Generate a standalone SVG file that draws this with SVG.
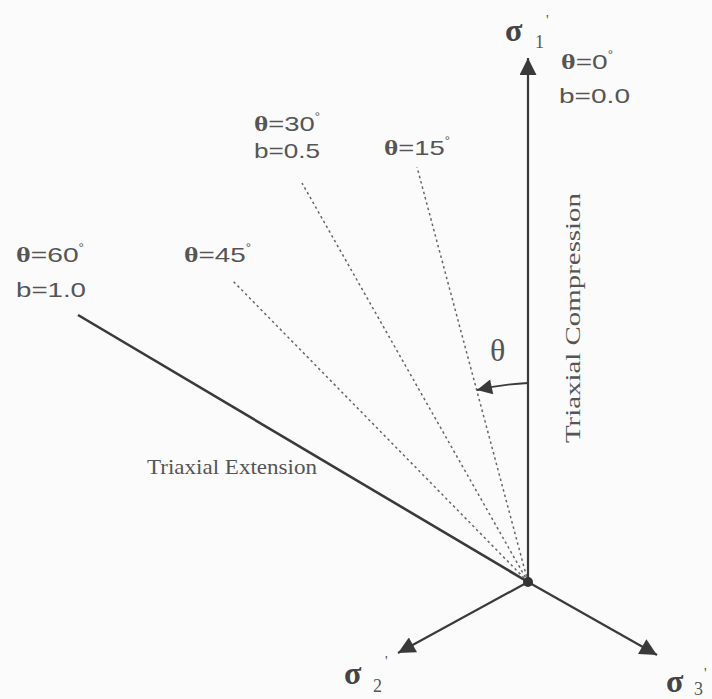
<svg xmlns="http://www.w3.org/2000/svg" width="712" height="699" viewBox="0 0 712 699">
<defs>
<marker id="ah" viewBox="0 0 10 10" refX="10" refY="5" markerWidth="27" markerHeight="17" markerUnits="userSpaceOnUse" orient="auto">
<path d="M0,0 L10,5 L0,10 Z" fill="#3a3a3a"/>
</marker>
<marker id="ahs" viewBox="0 0 10 10" refX="10" refY="5" markerWidth="26" markerHeight="15" markerUnits="userSpaceOnUse" orient="auto">
<path d="M0,0 L10,5 L0,10 Z" fill="#3a3a3a"/>
</marker>
</defs>
<style>
.ax{stroke:#3a3a3a;stroke-width:2.2;fill:none}
.dash{stroke:#666;stroke-width:1.5;stroke-dasharray:2.5 3;fill:none}
.lbl{font-family:"Liberation Sans",Arial,sans-serif;font-size:21px;fill:#555}
.lbl .th{font-family:"Liberation Serif","Times New Roman",serif;font-weight:bold}
.deg{font-size:10px}
.ser{font-family:"Liberation Serif","Times New Roman",serif;font-size:21px;fill:#555}
.sig{font-family:"Liberation Serif","Times New Roman",serif;font-size:32px;font-weight:bold;fill:#444}
.sub{font-family:"Liberation Serif","Times New Roman",serif;font-size:18px;fill:#555}
.pr{font-family:"Liberation Serif","Times New Roman",serif;font-size:15px;fill:#555}
</style>
<rect width="712" height="699" fill="#fbfbfb"/>
<g id="connectors">
<line class="ax" x1="528" y1="582" x2="528" y2="58" marker-end="url(#ah)"/>
<line class="ax" x1="528" y1="582" x2="398" y2="653" marker-end="url(#ah)"/>
<line class="ax" x1="528" y1="582" x2="657" y2="655" marker-end="url(#ah)"/>
<line class="ax" x1="528" y1="582" x2="78" y2="315" style="stroke-width:2.6"/>
<line class="dash" x1="528" y1="582" x2="417" y2="167"/>
<line class="dash" x1="528" y1="582" x2="302" y2="183"/>
<line class="dash" x1="528" y1="582" x2="232" y2="280"/>
<path class="ax" d="M528,383 Q505,384 477,390" style="stroke-width:1.8" marker-end="url(#ahs)"/>
<circle cx="528" cy="582" r="5" fill="#333"/>
</g>
<g id="sigma1">
<text class="sig" x="505" y="41">σ</text>
<text class="sub" x="535" y="48">1</text>
<text class="pr" x="546" y="25">'</text>
</g>
<g id="sigma2">
<text class="sig" x="344" y="684">σ</text>
<text class="sub" x="373" y="692">2</text>
<text class="pr" x="385" y="666">'</text>
</g>
<g id="sigma3">
<text class="sig" x="666" y="692">σ</text>
<text class="sub" x="694" y="695">3</text>
<text class="pr" x="704" y="678">'</text>
</g>
<g id="theta0">
<text class="lbl" x="561" y="69" textLength="52" lengthAdjust="spacingAndGlyphs"><tspan class="th">θ</tspan>=0<tspan class="deg" dy="-11">°</tspan></text>
<text class="lbl" x="559" y="103" textLength="71" lengthAdjust="spacingAndGlyphs">b=0.0</text>
</g>
<g id="theta15">
<text class="lbl" x="384" y="155" textLength="66" lengthAdjust="spacingAndGlyphs"><tspan class="th">θ</tspan>=15<tspan class="deg" dy="-11">°</tspan></text>
</g>
<g id="theta30">
<text class="lbl" x="254" y="131" textLength="66" lengthAdjust="spacingAndGlyphs"><tspan class="th">θ</tspan>=30<tspan class="deg" dy="-11">°</tspan></text>
<text class="lbl" x="254" y="158" textLength="66" lengthAdjust="spacingAndGlyphs">b=0.5</text>
</g>
<g id="theta45">
<text class="lbl" x="184" y="262" textLength="67" lengthAdjust="spacingAndGlyphs"><tspan class="th">θ</tspan>=45<tspan class="deg" dy="-11">°</tspan></text>
</g>
<g id="theta60">
<text class="lbl" x="16" y="262" textLength="68" lengthAdjust="spacingAndGlyphs"><tspan class="th">θ</tspan>=60<tspan class="deg" dy="-11">°</tspan></text>
<text class="lbl" x="16" y="297" textLength="70" lengthAdjust="spacingAndGlyphs">b=1.0</text>
</g>
<g id="theta-label">
<text x="490" y="361" style="font-family:'Liberation Serif','Times New Roman',serif;font-size:32px;fill:#555">θ</text>
</g>
<g id="compression-label">
<text class="ser" transform="translate(580,443) rotate(-90)" textLength="250" lengthAdjust="spacingAndGlyphs">Triaxial Compression</text>
</g>
<g id="extension-label">
<text class="ser" x="147" y="474" textLength="170" lengthAdjust="spacingAndGlyphs">Triaxial Extension</text>
</g>
</svg>
